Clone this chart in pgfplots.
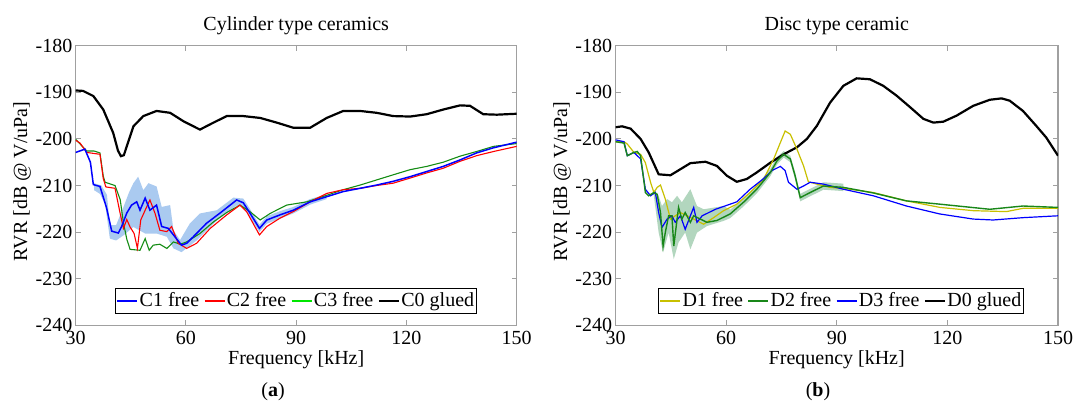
\documentclass[border=0pt]{standalone}
\usepackage{fontspec}
\setmainfont{Liberation Serif}
\usepackage{pgfplots}
\pgfplotsset{compat=1.18}
\definecolor{cblue}{RGB}{0,0,255}
\definecolor{cred}{RGB}{255,0,0}
\definecolor{cgreen}{RGB}{20,140,20}
\definecolor{lgreen}{RGB}{0,230,0}
\definecolor{bandblue}{RGB}{170,202,240}
\definecolor{bandgreen}{RGB}{178,214,190}
\definecolor{dyellow}{RGB}{200,192,0}
\definecolor{dgreen}{RGB}{25,135,25}
\definecolor{framegray}{RGB}{160,160,160}
\pgfplotsset{
  every axis title/.style={at={(0.5,1)}, anchor=base, yshift=7.6pt},
  myaxis/.style={
    scale only axis, height=139.8pt,
    xmin=30, xmax=150, ymin=-240, ymax=-180,
    xtick={30,60,90,120,150}, xticklabels={30,60,90,120,150},
    ytick={-240,-230,-220,-210,-200,-190,-180},
    yticklabels={-240,-230,-220,-210,-200,-190,-180},
    tick align=inside, major tick length=2.5pt,
    axis line style={framegray, line width=0.6pt},
    tick style={framegray, line width=0.5pt},
    yticklabel style={inner xsep=1.5pt},
    xticklabel style={inner ysep=2.5pt},
    xlabel={Frequency [kHz]},
    xlabel style={at={(axis description cs:0.5,0)}, anchor=base, yshift=-19.6pt},
    ylabel={RVR [dB @ V/uPa]},
    legend columns=4,
    legend cell align=left,
    legend image code/.code={\draw[#1] (0pt,0pt) -- (10pt,0pt);},
    legend style={draw=black, fill=white, line width=0.5pt, inner sep=0.5pt,
      nodes={inner xsep=0.8pt, inner ysep=1.5pt},
      /tikz/every even column/.append style={column sep=1.5pt}},
  }
}
\begin{document}
\begin{tikzpicture}
\useasboundingbox (0,0) rectangle (537.5pt,201.5pt);
% ---------------- (a) ----------------
\begin{axis}[myaxis, at={(37.85pt,38.85pt)}, anchor=south west, width=220.5pt,
  title={Cylinder type ceramics},
  ylabel style={at={(axis description cs:-0.1218,0.515)}, anchor=center},
  legend style={at={(0.5,0.04)}, anchor=south}]
\addplot[fill=bandblue, draw=none, forget plot] coordinates {
(35.0,-209.5)(37.0,-210.0)(38.5,-212.0)(39.3,-218.5)(41.0,-218.5)(43.0,-214.6)(44.5,-211.5)(45.7,-209.5)(47.0,-208.1)(48.4,-211.0)(49.8,-209.5)(52.0,-210.2)(53.4,-214.6)(55.7,-214.2)(56.6,-219.6)(58.4,-221.7)(61.1,-218.1)(63.8,-216.0)(68.4,-215.3)(72.9,-212.6)(75.6,-212.8)(77.4,-215.0)(80.0,-218.4)(82.0,-216.6)(85.6,-215.5)(89.2,-214.6)(93.8,-212.9)(98.3,-211.9)
(98.3,-212.9)(93.8,-214.1)(89.2,-216.0)(85.6,-217.1)(82.0,-218.2)(80.0,-220.0)(77.4,-216.8)(75.6,-214.6)(73.8,-214.3)(68.4,-217.5)(62.9,-221.8)(58.8,-224.3)(56.6,-223.5)(54.8,-221.0)(52.0,-220.3)(48.9,-220.3)(45.7,-218.9)(43.0,-220.7)(41.0,-221.8)(39.3,-221.4)(38.0,-214.0)(36.6,-211.8)(35.0,-211.0)
} -- cycle;
% C3 free
\addplot[cgreen, line width=0.55pt, forget plot] coordinates {
(30,-200.1)(33.0,-202.6)(35.0,-202.6)(36.6,-203.0)(37.5,-208.0)(38.0,-209.3)(40.7,-210.0)(42.1,-213.0)(43.0,-218.0)(43.9,-221.5)(44.8,-223.7)(47.5,-223.9)(48.9,-221.4)(50.0,-223.9)(51.1,-222.8)(52.9,-222.6)(54.8,-223.5)(56.6,-222.1)(58.4,-222.6)(60.2,-222.1)(63.8,-220.3)(67.5,-217.8)(71.1,-215.8)(74.7,-214.2)(77.4,-215.6)(80.2,-217.4)(82.9,-216.0)(87.4,-214.2)(92.9,-213.5)(98.3,-212.1)(102.8,-210.9)(107.4,-209.9)(111.9,-208.8)(116.4,-207.7)(121.0,-206.6)(125.5,-205.9)(130.0,-205.0)(134.6,-203.7)(139.1,-202.7)(143.7,-201.6)(150,-201.0)
};
% C2 free
\addplot[cred, line width=0.55pt, forget plot] coordinates {
(30,-200.3)(31.2,-200.9)(33.0,-202.9)(36.6,-203.3)(37.5,-208.5)(38.2,-210.3)(40.7,-210.6)(42.1,-216.0)(43.0,-219.2)(43.9,-217.3)(44.8,-218.9)(45.9,-220.3)(46.8,-223.5)(47.7,-217.4)(48.9,-215.3)(50.2,-213.1)(51.6,-216.0)(52.9,-219.6)(54.8,-219.9)(56.1,-218.8)(57.9,-222.4)(60.2,-223.5)(62.9,-222.4)(66.6,-219.2)(71.1,-216.3)(74.7,-214.2)(76.5,-215.6)(80.0,-220.6)(82.0,-218.8)(85.6,-217.0)(89.2,-215.6)(93.8,-213.5)(98.3,-211.7)(102.8,-210.9)(107.4,-210.6)(111.9,-210.0)(116.4,-209.5)(121.0,-208.4)(125.5,-207.3)(130.0,-206.3)(134.6,-204.8)(139.1,-203.6)(143.7,-202.7)(150,-201.6)
};
% C1 free
\addplot[cblue, line width=0.75pt, forget plot] coordinates {
(30,-202.9)(32.5,-202.2)(34.0,-205.0)(34.8,-209.8)(36.6,-210.2)(38.4,-214.8)(39.8,-219.8)(41.6,-220.2)(42.5,-218.8)(43.9,-215.9)(45.2,-214.2)(46.6,-213.5)(47.5,-215.3)(48.9,-212.7)(50.2,-215.3)(52.0,-214.2)(53.4,-218.8)(55.2,-219.2)(57.0,-221.0)(58.8,-222.8)(60.2,-222.4)(62.0,-221.0)(65.6,-218.1)(69.3,-215.9)(73.8,-213.1)(75.6,-213.7)(77.4,-215.9)(80.0,-219.2)(82.0,-217.4)(85.6,-216.3)(89.2,-215.3)(93.8,-213.5)(98.3,-212.4)(102.8,-211.3)(107.4,-210.6)(111.9,-209.9)(116.4,-209.1)(121.0,-208.1)(125.5,-207.0)(130.0,-205.9)(134.6,-204.5)(139.1,-203.0)(143.7,-201.9)(150,-200.7)
};
% C0 glued
\addplot[black, line width=1.1pt, forget plot] coordinates {
(30,-189.6)(32.0,-189.7)(34.8,-190.8)(37.5,-193.7)(40.2,-198.7)(41.5,-202.5)(42.3,-203.7)(43.1,-203.5)(43.9,-201.6)(45.7,-197.3)(48.4,-195.1)(52.0,-194.0)(55.7,-194.4)(59.3,-196.2)(63.8,-198.0)(67.5,-196.5)(71.1,-195.1)(75.6,-195.1)(80.2,-195.5)(84.7,-196.5)(89.2,-197.6)(93.8,-197.6)(98.3,-195.5)(102.8,-194.0)(107.4,-194.0)(111.9,-194.4)(116.4,-195.1)(121.0,-195.2)(125.5,-194.7)(130.0,-193.7)(134.6,-192.8)(137.3,-192.9)(140.9,-194.7)(144.6,-194.8)(150,-194.6)
};
\addlegendimage{cblue, line width=0.75pt}\addlegendentry{C1 free}
\addlegendimage{cred, line width=0.75pt}\addlegendentry{C2 free}
\addlegendimage{lgreen, line width=0.75pt}\addlegendentry{C3 free}
\addlegendimage{black, line width=0.9pt}\addlegendentry{C0 glued}
\end{axis}
% ---------------- (b) ----------------
\begin{axis}[myaxis, at={(307.75pt,38.85pt)}, anchor=south west, width=221.25pt,
  title={Disc type ceramic},
  ylabel style={at={(axis description cs:-0.121,0.515)}, anchor=center},
  legend style={at={(0.51,0.04)}, anchor=south}]
\addplot[fill=bandgreen, draw=none, forget plot] coordinates {
(40.4,-210.8)(41.7,-212.2)(42.6,-214.4)(44.0,-212.9)(45.3,-213.6)(46.7,-212.2)(48.0,-213.6)(50.3,-210.8)(52.1,-214.4)(53.9,-215.1)(59.3,-214.4)(61.1,-215.2)(64.7,-212.7)(68.3,-209.9)(72.0,-206.4)(73.8,-203.9)(75.6,-202.6)(77.4,-203.6)(78.7,-207.1)(80.1,-211.8)(82.8,-210.7)(86.4,-209.3)(91.8,-209.6)
(91.8,-211.2)(86.4,-210.9)(82.8,-212.3)(80.1,-213.4)(78.7,-208.7)(77.4,-205.0)(75.6,-204.0)(73.8,-205.5)(72.0,-208.0)(68.3,-211.7)(64.7,-214.5)(61.1,-217.0)(59.3,-217.6)(54.8,-218.7)(52.1,-220.1)(50.3,-223.7)(48.9,-220.1)(47.1,-222.2)(45.8,-225.8)(44.4,-220.1)(42.9,-224.4)(41.7,-220.1)(40.4,-212.2)
} -- cycle;
% D0 glued
\addplot[black, line width=1.1pt, forget plot] coordinates {
(30,-197.5)(31.8,-197.3)(34.1,-197.8)(36.8,-200.0)(39.0,-202.9)(41.7,-207.6)(44.9,-207.8)(47.6,-206.5)(50.3,-205.2)(54.4,-204.9)(57.5,-205.8)(60.2,-207.9)(62.9,-209.2)(65.6,-208.6)(68.3,-207.2)(72.0,-205.1)(75.6,-203.3)(79.2,-201.8)(81.9,-200.0)(84.6,-197.2)(88.2,-192.2)(91.8,-188.6)(95.4,-187.0)(99.0,-187.2)(102.6,-188.6)(106.2,-190.7)(109.9,-193.2)(113.5,-195.7)(116.2,-196.5)(118.9,-196.3)(122.5,-195.0)(127.0,-192.9)(131.5,-191.6)(134.7,-191.3)(136.9,-191.8)(140.5,-194.0)(144.1,-197.2)(146.8,-199.7)(150,-203.6)
};
% D1 free
\addplot[dyellow, line width=0.6pt, forget plot] coordinates {
(30,-200.6)(32.3,-200.6)(33.2,-201.1)(35.0,-202.9)(36.8,-203.3)(38.1,-205.1)(39.5,-209.3)(40.4,-211.5)(41.3,-210.4)(42.2,-209.9)(43.5,-212.9)(44.9,-217.2)(46.2,-216.5)(47.6,-215.8)(49.4,-216.5)(51.2,-217.2)(53.9,-218.3)(56.6,-216.9)(59.3,-215.4)(62.9,-214.0)(66.5,-211.5)(70.2,-208.6)(72.9,-204.3)(74.7,-200.8)(76.0,-198.3)(77.4,-199.0)(79.2,-202.2)(81.0,-205.8)(82.3,-209.2)(84.6,-209.7)(88.2,-210.4)(93.6,-210.8)(99.9,-211.5)(108.9,-213.3)(118.0,-214.7)(127.0,-215.4)(136.0,-215.6)(140.5,-214.9)(150,-214.9)
};
% D3 free
\addplot[cblue, line width=0.6pt, forget plot] coordinates {
(30,-200.2)(32.3,-200.6)(33.2,-203.6)(35.0,-202.9)(36.8,-204.3)(38.1,-210.8)(39.5,-212.2)(40.8,-211.5)(41.7,-215.8)(42.6,-219.0)(44.0,-217.2)(45.3,-216.5)(46.2,-217.9)(47.6,-216.5)(48.9,-219.4)(50.3,-216.5)(51.2,-214.7)(52.1,-217.9)(53.5,-216.5)(55.3,-215.8)(57.1,-215.1)(59.3,-214.5)(62.9,-213.5)(66.5,-210.8)(70.2,-208.5)(72.4,-206.8)(74.7,-205.9)(76.0,-206.8)(76.9,-209.3)(79.2,-210.8)(81.0,-210.1)(82.8,-209.3)(86.4,-209.7)(91.8,-210.8)(99.9,-212.2)(108.9,-214.4)(117.9,-216.1)(127.0,-217.2)(132.4,-217.4)(140.5,-216.9)(150,-216.5)
};
% D2 free
\addplot[dgreen, line width=0.7pt, forget plot] coordinates {
(30,-200.6)(32.3,-200.9)(33.2,-203.6)(35.0,-202.9)(35.9,-202.7)(36.8,-203.6)(38.1,-211.5)(39.0,-212.2)(40.4,-211.5)(41.3,-211.9)(42.2,-215.8)(42.9,-223.0)(43.5,-220.1)(44.4,-216.5)(45.3,-216.5)(45.8,-223.0)(46.7,-217.2)(47.1,-214.7)(48.0,-217.2)(48.9,-215.8)(50.3,-217.9)(51.2,-216.5)(53.0,-217.2)(54.8,-217.9)(57.5,-217.5)(61.1,-216.1)(64.7,-213.6)(68.3,-210.8)(72.0,-207.2)(73.8,-204.7)(75.6,-203.3)(77.4,-204.3)(78.7,-207.9)(80.1,-212.6)(82.8,-211.5)(86.4,-210.1)(91.8,-210.4)(99.9,-211.6)(108.9,-213.3)(117.9,-214.0)(131.5,-215.1)(140.5,-214.4)(150,-214.7)
};
\addlegendimage{dyellow, line width=0.75pt}\addlegendentry{D1 free}
\addlegendimage{dgreen, line width=0.75pt}\addlegendentry{D2 free}
\addlegendimage{cblue, line width=0.75pt}\addlegendentry{D3 free}
\addlegendimage{black, line width=0.9pt}\addlegendentry{D0 glued}
\end{axis}
\node at (136.5pt,5.7pt) {(\textbf{a})};
\node at (409pt,5.7pt) {(\textbf{b})};
\end{tikzpicture}
\end{document}
